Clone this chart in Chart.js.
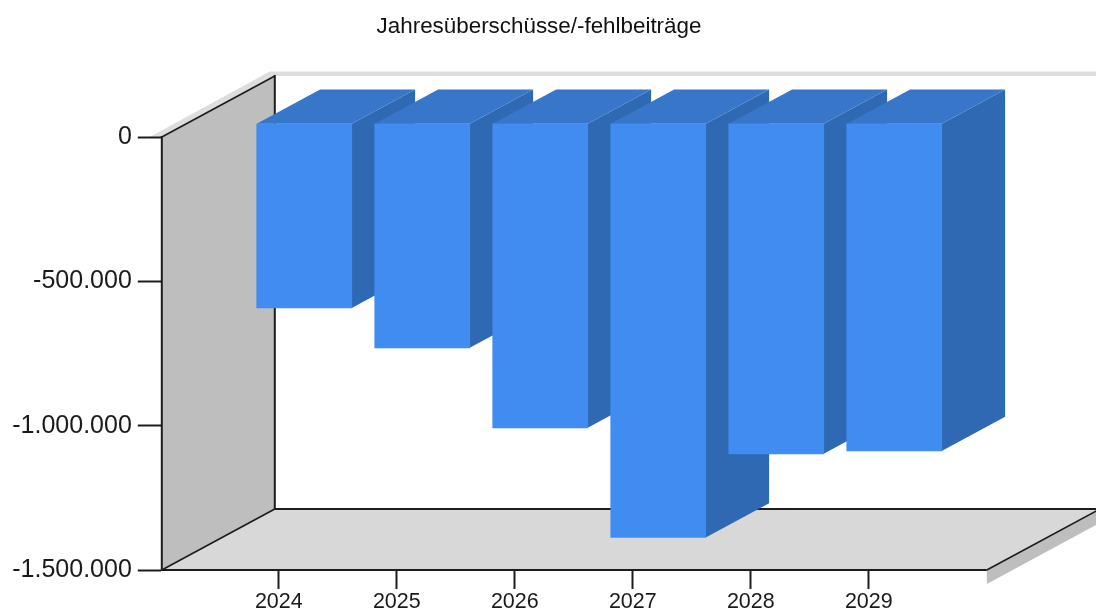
<!DOCTYPE html>
<html lang="de">
<head>
<meta charset="utf-8">
<title>Jahresüberschüsse/-fehlbeiträge</title>
<script src="https://cdn.jsdelivr.net/npm/chart.js@4"></script>
<style>
html,body{margin:0;padding:0;background:#fff;overflow:hidden}
#wrap{width:1096px;height:613px;position:relative}
canvas{display:block;filter:blur(0.35px)}
</style>
</head>
<body>
<div id="wrap"><canvas id="c" width="1096" height="613"></canvas></div>
<script>
const titleText = 'Jahresüberschüsse/-fehlbeiträge';
const years = [2024, 2025, 2026, 2027, 2028, 2029];
const surplus = [-640000, -778000, -1055000, -1435000, -1145000, -1135000];
const yMin = -1500000;
const yMax = 0;
const yStep = 500000;

const points = years.map((x, i) => ({ x, y: surplus[i] }));

const COLORS = {
  front: '#418cf0', top: '#3776c9', side: '#2f69b3',
  wall: '#bebebe', floor: '#d8d8d8', rim: '#dddddd', under: '#bebebe', line: '#1c1c1c'
};
const DEPTH = { dx: 113, dy: 61, barStart: 0.225, barEnd: 0.786 };

function poly(ctx, pts, fill) {
  ctx.beginPath();
  pts.forEach((p, i) => i ? ctx.lineTo(p[0], p[1]) : ctx.moveTo(p[0], p[1]));
  ctx.closePath();
  ctx.fillStyle = fill;
  ctx.fill();
}
function seg(ctx, a, b) {
  ctx.beginPath();
  ctx.moveTo(a[0], a[1]);
  ctx.lineTo(b[0], b[1]);
  ctx.stroke();
}

const threeD = {
  id: 'threeD',
  afterLayout(chart) {
    const shift = 45.6;
    chart.titleBlock.left += shift;
    chart.titleBlock.right += shift;
  },
  beforeDraw(chart) {
    // light rim behind the walls, below the axis ticks
    const { ctx, chartArea: a } = chart;
    const l = a.left + 1, t = a.top;
    const bx = l + DEPTH.dx, ty = t - DEPTH.dy, w = chart.width;
    poly(ctx, [[l - 12, t], [bx - 5, ty - 4.5], [w, ty - 4.5], [w, ty], [bx, ty], [l, t]], COLORS.rim);
  },
  beforeDatasetsDraw(chart) {
    const { ctx, chartArea: a } = chart;
    const l = a.left + 1, r = a.right, t = a.top, b = a.bottom;
    const bx = l + DEPTH.dx, ty = t - DEPTH.dy, by = b - DEPTH.dy;
    ctx.save();
    // side wall
    poly(ctx, [[l, t], [bx, ty], [bx, by], [l, b]], COLORS.wall);
    // floor and its edge
    poly(ctx, [[r, b], [r + DEPTH.dx, by], [r + DEPTH.dx, by + 14], [r, b + 14]], COLORS.under);
    poly(ctx, [[l, b], [bx, by], [r + DEPTH.dx, by], [r, b]], COLORS.floor);
    ctx.strokeStyle = COLORS.line;
    ctx.lineWidth = 2;
    seg(ctx, [l, t - 1], [l, b + 1]);
    seg(ctx, [bx, ty - 1], [bx, by]);
    seg(ctx, [bx, by], [r + DEPTH.dx, by]);
    seg(ctx, [l, b], [r, b]);
    ctx.lineWidth = 1.6;
    seg(ctx, [l, t], [bx, ty]);
    seg(ctx, [l, b], [bx, by]);
    seg(ctx, [r, b], [r + DEPTH.dx, by]);

    // extruded sides and tops of the bars
    const ox = DEPTH.dx * DEPTH.barStart, oy = DEPTH.dy * DEPTH.barStart;
    const ex = DEPTH.dx * (DEPTH.barEnd - DEPTH.barStart), ey = DEPTH.dy * (DEPTH.barEnd - DEPTH.barStart);
    chart.getDatasetMeta(0).data.forEach(bar => {
      const p = bar.getProps(['x', 'y', 'base', 'width'], true);
      const x0 = p.x - p.width / 2 + ox, x1 = p.x + p.width / 2 + ox;
      const yT = p.base - oy, yB = p.y - oy;
      poly(ctx, [[x1, yT], [x1 + ex, yT - ey], [x1 + ex, yB - ey], [x1, yB]], COLORS.side);
      poly(ctx, [[x0, yT], [x0 + ex, yT - ey], [x1 + ex, yT - ey], [x1, yT]], COLORS.top);
    });
    ctx.translate(ox, -oy);
  },
  afterDatasetsDraw(chart) {
    chart.ctx.restore();
  }
};

new Chart(document.getElementById('c'), {
  type: 'bar',
  data: {
    datasets: [{
      label: titleText,
      data: points,
      backgroundColor: COLORS.front,
      borderWidth: 0,
      barThickness: 95,
      clip: false
    }]
  },
  options: {
    responsive: false,
    animation: false,
    events: [],
    layout: { padding: { left: 0, right: 109.2, top: 0, bottom: 0 } },
    plugins: {
      legend: { display: false },
      tooltip: { enabled: false },
      title: {
        display: true,
        text: titleText,
        color: '#111111',
        font: { family: '"Liberation Sans", Arial, sans-serif', size: 22.4, weight: 'normal', lineHeight: 1.2 },
        padding: { top: 13, bottom: 97.12 }
      }
    },
    scales: {
      x: {
        type: 'linear',
        offset: false,
        min: years[0] - 1,
        max: years[years.length - 1] + 1,
        afterBuildTicks: s => { s.ticks = years.map(v => ({ value: v })); },
        afterFit: s => { s.height = 43; },
        border: { display: false },
        grid: { offset: false, drawOnChartArea: false, drawTicks: true, tickLength: 19, tickColor: COLORS.line, tickWidth: 2 },
        ticks: {
          autoSkip: false, maxRotation: 0, padding: 0, color: '#1a1a1a',
          font: { family: '"Liberation Sans", Arial, sans-serif', size: 21.5 },
          callback: v => String(v)
        }
      },
      y: {
        min: yMin,
        max: yMax,
        afterFit: s => { s.width = 160.8; },
        border: { display: false },
        grid: { drawOnChartArea: false, drawTicks: true, tickLength: 23, tickColor: COLORS.line, tickWidth: 2 },
        ticks: {
          stepSize: yStep, padding: 6, color: '#1a1a1a',
          font: { family: '"Liberation Sans", Arial, sans-serif', size: 25 },
          callback: v => v.toLocaleString('de-DE')
        }
      }
    }
  },
  plugins: [threeD]
});
</script>
</body>
</html>
